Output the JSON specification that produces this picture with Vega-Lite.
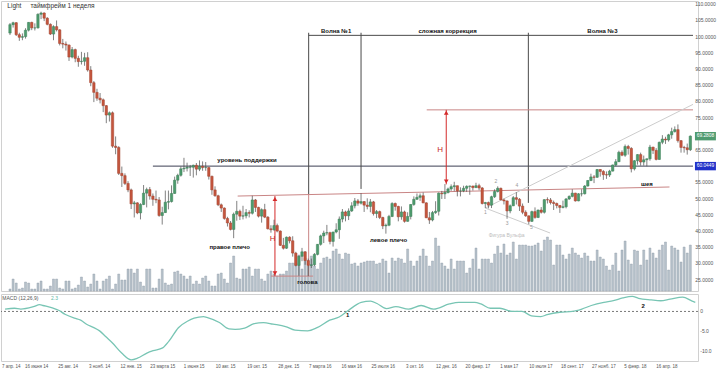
{
"$schema":"https://vega.github.io/schema/vega-lite/v6.json",
"padding":0,
"background":"white",
"config":{"font":"Liberation Sans","view":{"stroke":"#d0d0d0"}},
"datasets":{
"candles":[
{"d":"2014-04-07","o":101.1,"h":104.2,"l":100.5,"c":103.7,"v":2},
{"d":"2014-04-14","o":103.7,"h":104.6,"l":102.8,"c":104.3,"v":12},
{"d":"2014-04-21","o":104.3,"h":104.5,"l":100.2,"c":100.6,"v":8},
{"d":"2014-04-28","o":100.6,"h":101.2,"l":98.7,"c":99.8,"v":2},
{"d":"2014-05-05","o":99.8,"h":101.0,"l":98.9,"c":100.0,"v":3},
{"d":"2014-05-12","o":100.0,"h":102.6,"l":99.4,"c":102.0,"v":9},
{"d":"2014-05-19","o":102.0,"h":104.5,"l":101.6,"c":104.4,"v":8},
{"d":"2014-05-26","o":104.4,"h":104.6,"l":102.0,"c":102.7,"v":2},
{"d":"2014-06-02","o":102.7,"h":104.1,"l":101.9,"c":102.7,"v":2},
{"d":"2014-06-09","o":102.7,"h":107.2,"l":102.5,"c":106.9,"v":8},
{"d":"2014-06-16","o":106.9,"h":107.7,"l":105.4,"c":107.3,"v":10},
{"d":"2014-06-23","o":107.3,"h":107.5,"l":104.8,"c":105.7,"v":2},
{"d":"2014-06-30","o":105.7,"h":106.0,"l":103.5,"c":103.8,"v":2},
{"d":"2014-07-07","o":103.8,"h":104.1,"l":100.5,"c":100.8,"v":5},
{"d":"2014-07-14","o":100.8,"h":103.5,"l":98.9,"c":103.1,"v":12},
{"d":"2014-07-21","o":103.1,"h":105.0,"l":101.6,"c":102.1,"v":12},
{"d":"2014-07-28","o":102.1,"h":102.3,"l":97.3,"c":97.9,"v":3},
{"d":"2014-08-04","o":97.9,"h":99.3,"l":96.4,"c":97.7,"v":2},
{"d":"2014-08-11","o":97.7,"h":98.5,"l":95.7,"c":97.4,"v":10},
{"d":"2014-08-18","o":97.4,"h":97.6,"l":92.5,"c":93.7,"v":10},
{"d":"2014-08-25","o":93.7,"h":96.8,"l":93.3,"c":96.0,"v":2},
{"d":"2014-09-01","o":96.0,"h":96.3,"l":92.1,"c":93.3,"v":3},
{"d":"2014-09-08","o":93.3,"h":94.1,"l":90.7,"c":92.3,"v":6},
{"d":"2014-09-15","o":92.3,"h":95.3,"l":91.4,"c":92.4,"v":14},
{"d":"2014-09-22","o":92.4,"h":95.0,"l":91.0,"c":93.5,"v":10},
{"d":"2014-09-29","o":93.5,"h":95.2,"l":89.2,"c":89.7,"v":4},
{"d":"2014-10-06","o":89.7,"h":90.9,"l":84.7,"c":85.8,"v":7},
{"d":"2014-10-13","o":85.8,"h":86.3,"l":79.8,"c":82.8,"v":17},
{"d":"2014-10-20","o":82.8,"h":83.9,"l":80.2,"c":81.0,"v":10},
{"d":"2014-10-27","o":81.0,"h":82.6,"l":79.4,"c":80.5,"v":2},
{"d":"2014-11-03","o":80.5,"h":80.9,"l":76.7,"c":78.7,"v":10},
{"d":"2014-11-10","o":78.7,"h":78.9,"l":73.3,"c":75.8,"v":12},
{"d":"2014-11-17","o":75.8,"h":76.9,"l":73.8,"c":76.5,"v":15},
{"d":"2014-11-24","o":76.5,"h":76.9,"l":65.7,"c":66.2,"v":2},
{"d":"2014-12-01","o":66.2,"h":69.2,"l":63.7,"c":65.8,"v":7},
{"d":"2014-12-08","o":65.8,"h":66.2,"l":57.3,"c":57.8,"v":17},
{"d":"2014-12-15","o":57.8,"h":59.9,"l":53.6,"c":57.1,"v":11},
{"d":"2014-12-22","o":57.1,"h":57.8,"l":54.2,"c":54.7,"v":11},
{"d":"2014-12-29","o":54.7,"h":55.4,"l":52.0,"c":52.7,"v":22},
{"d":"2015-01-05","o":52.7,"h":53.1,"l":46.8,"c":48.4,"v":22},
{"d":"2015-01-12","o":48.4,"h":49.3,"l":44.2,"c":48.7,"v":18},
{"d":"2015-01-19","o":48.7,"h":48.9,"l":45.2,"c":45.6,"v":22},
{"d":"2015-01-26","o":45.6,"h":48.6,"l":43.6,"c":48.2,"v":9},
{"d":"2015-02-02","o":48.2,"h":54.2,"l":48.0,"c":51.7,"v":5},
{"d":"2015-02-09","o":51.7,"h":53.4,"l":47.3,"c":52.8,"v":22},
{"d":"2015-02-16","o":52.8,"h":53.6,"l":49.7,"c":50.8,"v":22},
{"d":"2015-02-23","o":50.8,"h":51.6,"l":47.8,"c":49.8,"v":3},
{"d":"2015-03-02","o":49.8,"h":52.5,"l":48.6,"c":49.6,"v":3},
{"d":"2015-03-09","o":49.6,"h":50.5,"l":44.4,"c":44.8,"v":12},
{"d":"2015-03-16","o":44.8,"h":47.5,"l":42.0,"c":45.7,"v":22},
{"d":"2015-03-23","o":45.7,"h":52.5,"l":45.6,"c":48.9,"v":8},
{"d":"2015-03-30","o":48.9,"h":52.5,"l":46.7,"c":49.1,"v":6},
{"d":"2015-04-06","o":49.1,"h":54.1,"l":48.8,"c":51.6,"v":7},
{"d":"2015-04-13","o":51.6,"h":56.8,"l":51.5,"c":55.7,"v":19},
{"d":"2015-04-20","o":55.7,"h":57.7,"l":54.6,"c":57.2,"v":20},
{"d":"2015-04-27","o":57.2,"h":59.9,"l":56.8,"c":59.2,"v":17},
{"d":"2015-05-04","o":59.2,"h":62.6,"l":58.2,"c":59.4,"v":15},
{"d":"2015-05-11","o":59.4,"h":61.1,"l":58.4,"c":59.7,"v":12},
{"d":"2015-05-18","o":59.7,"h":60.4,"l":57.0,"c":59.7,"v":15},
{"d":"2015-05-25","o":59.7,"h":60.5,"l":56.5,"c":60.3,"v":7},
{"d":"2015-06-01","o":60.3,"h":61.0,"l":57.2,"c":59.1,"v":10},
{"d":"2015-06-08","o":59.1,"h":61.8,"l":58.5,"c":60.0,"v":7},
{"d":"2015-06-15","o":60.0,"h":61.5,"l":58.6,"c":59.6,"v":13},
{"d":"2015-06-22","o":59.6,"h":61.3,"l":58.6,"c":59.6,"v":15},
{"d":"2015-06-29","o":59.6,"h":59.7,"l":55.9,"c":56.9,"v":10},
{"d":"2015-07-06","o":56.9,"h":57.1,"l":51.2,"c":52.7,"v":5},
{"d":"2015-07-13","o":52.7,"h":53.8,"l":50.6,"c":50.9,"v":5},
{"d":"2015-07-20","o":50.9,"h":51.2,"l":47.7,"c":48.1,"v":17},
{"d":"2015-07-27","o":48.1,"h":48.5,"l":45.9,"c":47.1,"v":18},
{"d":"2015-08-03","o":47.1,"h":47.3,"l":43.5,"c":43.9,"v":12},
{"d":"2015-08-10","o":43.9,"h":44.4,"l":41.4,"c":42.5,"v":8},
{"d":"2015-08-17","o":42.5,"h":43.1,"l":40.2,"c":40.5,"v":28},
{"d":"2015-08-24","o":40.5,"h":45.7,"l":37.8,"c":45.2,"v":35},
{"d":"2015-08-31","o":45.2,"h":49.3,"l":43.2,"c":46.1,"v":13},
{"d":"2015-09-07","o":46.1,"h":46.6,"l":43.4,"c":44.6,"v":12},
{"d":"2015-09-14","o":44.6,"h":47.8,"l":43.6,"c":44.7,"v":22},
{"d":"2015-09-21","o":44.7,"h":46.8,"l":43.9,"c":45.7,"v":22},
{"d":"2015-09-28","o":45.7,"h":46.4,"l":44.2,"c":45.5,"v":24},
{"d":"2015-10-05","o":45.5,"h":50.9,"l":45.1,"c":49.6,"v":15},
{"d":"2015-10-12","o":49.6,"h":49.9,"l":45.9,"c":47.3,"v":22},
{"d":"2015-10-19","o":47.3,"h":47.5,"l":44.2,"c":44.6,"v":22},
{"d":"2015-10-26","o":44.6,"h":47.0,"l":42.6,"c":46.6,"v":12},
{"d":"2015-11-02","o":46.6,"h":48.4,"l":44.0,"c":44.3,"v":10},
{"d":"2015-11-09","o":44.3,"h":44.6,"l":40.5,"c":40.7,"v":17},
{"d":"2015-11-16","o":40.7,"h":41.8,"l":39.5,"c":40.4,"v":20},
{"d":"2015-11-23","o":40.4,"h":43.5,"l":40.1,"c":41.7,"v":17},
{"d":"2015-11-30","o":41.7,"h":42.3,"l":39.6,"c":40.0,"v":15},
{"d":"2015-12-07","o":40.0,"h":40.2,"l":35.4,"c":35.6,"v":17},
{"d":"2015-12-14","o":35.6,"h":37.9,"l":34.3,"c":34.7,"v":17},
{"d":"2015-12-21","o":34.7,"h":38.3,"l":34.5,"c":38.1,"v":20},
{"d":"2015-12-28","o":38.1,"h":38.4,"l":36.2,"c":37.0,"v":28},
{"d":"2016-01-04","o":37.0,"h":38.4,"l":32.1,"c":33.2,"v":28},
{"d":"2016-01-11","o":33.2,"h":33.6,"l":29.1,"c":29.4,"v":28},
{"d":"2016-01-18","o":29.4,"h":32.4,"l":26.2,"c":32.2,"v":36},
{"d":"2016-01-25","o":32.2,"h":34.8,"l":30.7,"c":33.6,"v":22},
{"d":"2016-02-01","o":33.6,"h":33.8,"l":29.6,"c":30.9,"v":33},
{"d":"2016-02-08","o":30.9,"h":31.5,"l":26.1,"c":29.4,"v":25},
{"d":"2016-02-15","o":29.4,"h":31.5,"l":28.6,"c":29.6,"v":35},
{"d":"2016-02-22","o":29.6,"h":33.2,"l":29.2,"c":32.8,"v":25},
{"d":"2016-02-29","o":32.8,"h":36.0,"l":32.5,"c":35.9,"v":22},
{"d":"2016-03-07","o":35.9,"h":38.9,"l":35.5,"c":38.5,"v":28},
{"d":"2016-03-14","o":38.5,"h":40.1,"l":36.3,"c":39.4,"v":33},
{"d":"2016-03-21","o":39.4,"h":41.9,"l":38.7,"c":39.5,"v":34},
{"d":"2016-03-28","o":39.5,"h":39.8,"l":35.9,"c":36.8,"v":32},
{"d":"2016-04-04","o":36.8,"h":39.8,"l":35.2,"c":39.7,"v":40},
{"d":"2016-04-11","o":39.7,"h":42.4,"l":39.3,"c":40.4,"v":42},
{"d":"2016-04-18","o":40.4,"h":44.5,"l":37.6,"c":43.7,"v":37},
{"d":"2016-04-25","o":43.7,"h":46.8,"l":42.7,"c":45.9,"v":32},
{"d":"2016-05-02","o":45.9,"h":46.3,"l":43.0,"c":44.7,"v":38},
{"d":"2016-05-09","o":44.7,"h":47.0,"l":43.4,"c":46.2,"v":37},
{"d":"2016-05-16","o":46.2,"h":48.9,"l":45.9,"c":47.8,"v":27},
{"d":"2016-05-23","o":47.8,"h":50.2,"l":47.0,"c":49.3,"v":28},
{"d":"2016-05-30","o":49.3,"h":49.9,"l":47.8,"c":48.6,"v":25},
{"d":"2016-06-06","o":48.6,"h":51.7,"l":48.2,"c":49.1,"v":28},
{"d":"2016-06-13","o":49.1,"h":49.2,"l":45.9,"c":48.0,"v":29},
{"d":"2016-06-20","o":48.0,"h":50.1,"l":46.7,"c":47.6,"v":30},
{"d":"2016-06-27","o":47.6,"h":49.9,"l":45.8,"c":49.0,"v":30},
{"d":"2016-07-04","o":49.0,"h":49.3,"l":44.8,"c":45.4,"v":30},
{"d":"2016-07-11","o":45.4,"h":46.5,"l":44.0,"c":46.0,"v":27},
{"d":"2016-07-18","o":46.0,"h":46.3,"l":43.7,"c":44.2,"v":28},
{"d":"2016-07-25","o":44.2,"h":44.4,"l":40.6,"c":41.6,"v":32},
{"d":"2016-08-01","o":41.6,"h":42.3,"l":39.2,"c":41.8,"v":30},
{"d":"2016-08-08","o":41.8,"h":45.0,"l":41.5,"c":44.5,"v":18},
{"d":"2016-08-15","o":44.5,"h":48.9,"l":44.3,"c":48.5,"v":33},
{"d":"2016-08-22","o":48.5,"h":48.8,"l":46.3,"c":47.6,"v":30},
{"d":"2016-08-29","o":47.6,"h":47.8,"l":43.0,"c":44.4,"v":33},
{"d":"2016-09-05","o":44.4,"h":47.6,"l":43.5,"c":45.9,"v":32},
{"d":"2016-09-12","o":45.9,"h":46.3,"l":42.6,"c":43.0,"v":28},
{"d":"2016-09-19","o":43.0,"h":45.8,"l":42.9,"c":44.5,"v":42},
{"d":"2016-09-26","o":44.5,"h":48.3,"l":43.6,"c":48.2,"v":30},
{"d":"2016-10-03","o":48.2,"h":50.7,"l":47.8,"c":49.8,"v":25},
{"d":"2016-10-10","o":49.8,"h":51.6,"l":49.6,"c":50.4,"v":30},
{"d":"2016-10-17","o":50.4,"h":51.6,"l":49.3,"c":50.9,"v":35},
{"d":"2016-10-24","o":50.9,"h":51.9,"l":48.6,"c":48.7,"v":42},
{"d":"2016-10-31","o":48.7,"h":48.9,"l":44.0,"c":44.1,"v":35},
{"d":"2016-11-07","o":44.1,"h":45.9,"l":42.2,"c":43.4,"v":25},
{"d":"2016-11-14","o":43.4,"h":46.2,"l":43.0,"c":45.7,"v":30},
{"d":"2016-11-21","o":45.7,"h":49.2,"l":45.3,"c":46.1,"v":53},
{"d":"2016-11-28","o":46.1,"h":51.9,"l":44.8,"c":51.7,"v":45},
{"d":"2016-12-05","o":51.7,"h":52.4,"l":49.9,"c":51.5,"v":28},
{"d":"2016-12-12","o":51.5,"h":54.5,"l":49.9,"c":51.9,"v":25},
{"d":"2016-12-19","o":51.9,"h":53.4,"l":51.6,"c":53.0,"v":22},
{"d":"2016-12-26","o":53.0,"h":54.4,"l":52.4,"c":53.7,"v":32},
{"d":"2017-01-02","o":53.7,"h":55.2,"l":52.3,"c":54.0,"v":22},
{"d":"2017-01-09","o":54.0,"h":54.0,"l":50.7,"c":52.4,"v":30},
{"d":"2017-01-16","o":52.4,"h":53.5,"l":50.7,"c":52.4,"v":30},
{"d":"2017-01-23","o":52.4,"h":54.0,"l":52.0,"c":53.2,"v":30},
{"d":"2017-01-30","o":53.2,"h":54.1,"l":52.1,"c":53.8,"v":18},
{"d":"2017-02-06","o":53.8,"h":54.0,"l":51.2,"c":53.9,"v":23},
{"d":"2017-02-13","o":53.9,"h":54.0,"l":52.5,"c":53.4,"v":32},
{"d":"2017-02-20","o":53.4,"h":54.9,"l":53.3,"c":54.0,"v":43},
{"d":"2017-02-27","o":54.0,"h":54.6,"l":52.6,"c":53.3,"v":22},
{"d":"2017-03-06","o":53.3,"h":53.6,"l":48.2,"c":48.5,"v":32},
{"d":"2017-03-13","o":48.5,"h":49.0,"l":47.1,"c":48.8,"v":32},
{"d":"2017-03-20","o":48.8,"h":49.1,"l":47.0,"c":48.0,"v":32},
{"d":"2017-03-27","o":48.0,"h":50.9,"l":47.1,"c":50.6,"v":28},
{"d":"2017-04-03","o":50.6,"h":52.9,"l":50.2,"c":52.2,"v":37},
{"d":"2017-04-10","o":52.2,"h":53.8,"l":51.9,"c":53.2,"v":45},
{"d":"2017-04-17","o":53.2,"h":53.4,"l":49.5,"c":49.6,"v":38},
{"d":"2017-04-24","o":49.6,"h":50.0,"l":48.2,"c":49.3,"v":47},
{"d":"2017-05-01","o":49.3,"h":49.4,"l":43.8,"c":46.2,"v":36},
{"d":"2017-05-08","o":46.2,"h":48.2,"l":45.5,"c":47.8,"v":38},
{"d":"2017-05-15","o":47.8,"h":50.8,"l":47.7,"c":50.3,"v":49},
{"d":"2017-05-22","o":50.3,"h":52.0,"l":48.2,"c":49.8,"v":32},
{"d":"2017-05-29","o":49.8,"h":50.2,"l":46.2,"c":47.7,"v":46},
{"d":"2017-06-05","o":47.7,"h":48.5,"l":45.2,"c":45.8,"v":46},
{"d":"2017-06-12","o":45.8,"h":46.4,"l":44.4,"c":44.7,"v":46},
{"d":"2017-06-19","o":44.7,"h":44.8,"l":42.1,"c":43.0,"v":45},
{"d":"2017-06-26","o":43.0,"h":46.3,"l":42.8,"c":46.0,"v":45},
{"d":"2017-07-03","o":46.0,"h":47.3,"l":43.8,"c":44.2,"v":46},
{"d":"2017-07-10","o":44.2,"h":46.6,"l":44.0,"c":46.5,"v":48},
{"d":"2017-07-17","o":46.5,"h":47.4,"l":45.4,"c":45.8,"v":40},
{"d":"2017-07-24","o":45.8,"h":49.8,"l":45.4,"c":49.7,"v":51},
{"d":"2017-07-31","o":49.7,"h":50.4,"l":48.5,"c":49.6,"v":54},
{"d":"2017-08-07","o":49.6,"h":50.2,"l":48.2,"c":48.8,"v":51},
{"d":"2017-08-14","o":48.8,"h":49.4,"l":46.5,"c":48.5,"v":26},
{"d":"2017-08-21","o":48.5,"h":48.8,"l":47.0,"c":47.9,"v":46},
{"d":"2017-08-28","o":47.9,"h":48.0,"l":45.6,"c":47.3,"v":46},
{"d":"2017-09-04","o":47.3,"h":49.4,"l":47.0,"c":47.5,"v":36},
{"d":"2017-09-11","o":47.5,"h":50.2,"l":47.0,"c":49.9,"v":32},
{"d":"2017-09-18","o":49.9,"h":51.0,"l":49.6,"c":50.7,"v":37},
{"d":"2017-09-25","o":50.7,"h":52.9,"l":50.4,"c":51.7,"v":43},
{"d":"2017-10-02","o":51.7,"h":51.8,"l":49.1,"c":49.3,"v":38},
{"d":"2017-10-09","o":49.3,"h":51.7,"l":49.2,"c":51.5,"v":36},
{"d":"2017-10-16","o":51.5,"h":52.9,"l":50.7,"c":51.5,"v":33},
{"d":"2017-10-23","o":51.5,"h":54.2,"l":51.3,"c":53.9,"v":38},
{"d":"2017-10-30","o":53.9,"h":55.7,"l":53.7,"c":55.6,"v":35},
{"d":"2017-11-06","o":55.6,"h":57.7,"l":55.4,"c":56.7,"v":30},
{"d":"2017-11-13","o":56.7,"h":57.3,"l":54.8,"c":56.6,"v":30},
{"d":"2017-11-20","o":56.6,"h":59.1,"l":56.4,"c":59.0,"v":41},
{"d":"2017-11-27","o":59.0,"h":59.1,"l":56.8,"c":58.4,"v":34},
{"d":"2017-12-04","o":58.4,"h":58.8,"l":55.8,"c":57.4,"v":32},
{"d":"2017-12-11","o":57.4,"h":58.4,"l":56.1,"c":57.3,"v":25},
{"d":"2017-12-18","o":57.3,"h":58.9,"l":56.7,"c":58.5,"v":21},
{"d":"2017-12-25","o":58.5,"h":60.5,"l":58.4,"c":60.4,"v":26},
{"d":"2018-01-01","o":60.4,"h":62.2,"l":60.0,"c":61.4,"v":38},
{"d":"2018-01-08","o":61.4,"h":64.8,"l":61.3,"c":64.3,"v":20},
{"d":"2018-01-15","o":64.3,"h":64.9,"l":63.1,"c":63.4,"v":41},
{"d":"2018-01-22","o":63.4,"h":66.7,"l":62.9,"c":66.1,"v":50},
{"d":"2018-01-29","o":66.1,"h":66.6,"l":63.6,"c":65.5,"v":31},
{"d":"2018-02-05","o":65.5,"h":65.9,"l":58.1,"c":59.2,"v":27},
{"d":"2018-02-12","o":59.2,"h":61.9,"l":58.7,"c":61.7,"v":41},
{"d":"2018-02-19","o":61.7,"h":63.7,"l":60.5,"c":63.6,"v":40},
{"d":"2018-02-26","o":63.6,"h":64.2,"l":60.2,"c":61.3,"v":26},
{"d":"2018-03-05","o":61.3,"h":63.3,"l":60.2,"c":62.0,"v":41},
{"d":"2018-03-12","o":62.0,"h":62.4,"l":60.0,"c":62.3,"v":31},
{"d":"2018-03-19","o":62.3,"h":66.6,"l":61.7,"c":65.9,"v":43},
{"d":"2018-03-26","o":65.9,"h":66.0,"l":63.8,"c":64.9,"v":38},
{"d":"2018-04-02","o":64.9,"h":65.6,"l":61.8,"c":62.1,"v":33},
{"d":"2018-04-09","o":62.1,"h":67.6,"l":62.0,"c":67.4,"v":41},
{"d":"2018-04-16","o":67.4,"h":69.6,"l":66.8,"c":68.4,"v":46},
{"d":"2018-04-23","o":68.4,"h":69.1,"l":66.9,"c":68.1,"v":49},
{"d":"2018-04-30","o":68.1,"h":70.0,"l":67.6,"c":69.7,"v":21},
{"d":"2018-05-07","o":69.7,"h":71.9,"l":68.5,"c":70.7,"v":45},
{"d":"2018-05-14","o":70.7,"h":72.3,"l":70.4,"c":71.3,"v":43},
{"d":"2018-05-21","o":71.3,"h":72.9,"l":67.3,"c":67.9,"v":41},
{"d":"2018-05-28","o":67.9,"h":68.1,"l":64.2,"c":65.8,"v":29},
{"d":"2018-06-04","o":65.8,"h":66.3,"l":64.2,"c":65.7,"v":44},
{"d":"2018-06-11","o":65.7,"h":67.0,"l":63.6,"c":65.1,"v":38},
{"d":"2018-06-18","o":65.1,"h":69.5,"l":64.7,"c":69.3,"v":46}
],
"macd":[
{"d":"2014-04-07","m":0.6},{"d":"2014-04-28","m":0.8},{"d":"2014-05-12","m":0.6},{"d":"2014-06-09","m":1.2},
{"d":"2014-06-23","m":1.7},{"d":"2014-06-30","m":1.5},{"d":"2014-07-21","m":0.9},{"d":"2014-08-04","m":0.3},
{"d":"2014-08-18","m":-0.7},{"d":"2014-09-08","m":-1.7},{"d":"2014-09-22","m":-2.2},{"d":"2014-10-06","m":-3.3},
{"d":"2014-10-20","m":-4.0},{"d":"2014-11-03","m":-4.9},{"d":"2014-11-17","m":-6.4},{"d":"2014-12-01","m":-7.9},
{"d":"2014-12-22","m":-10.5},{"d":"2015-01-12","m":-12.2},{"d":"2015-01-26","m":-11.8},{"d":"2015-02-16","m":-10.5},
{"d":"2015-03-02","m":-9.9},{"d":"2015-03-23","m":-9.2},{"d":"2015-04-06","m":-7.5},{"d":"2015-04-27","m":-4.1},
{"d":"2015-05-18","m":-2.4},{"d":"2015-06-01","m":-1.7},{"d":"2015-06-22","m":-1.3},{"d":"2015-06-29","m":-1.5},
{"d":"2015-07-27","m":-2.8},{"d":"2015-08-17","m":-4.4},{"d":"2015-08-31","m":-4.5},{"d":"2015-09-21","m":-4.2},
{"d":"2015-10-12","m":-3.1},{"d":"2015-11-02","m":-2.8},{"d":"2015-11-23","m":-3.2},{"d":"2015-12-21","m":-3.8},
{"d":"2016-01-11","m":-4.7},{"d":"2016-02-08","m":-4.9},{"d":"2016-02-29","m":-4.1},{"d":"2016-03-28","m":-2.2},
{"d":"2016-04-18","m":-1.4},{"d":"2016-05-09","m":0.3},{"d":"2016-06-06","m":2.3},{"d":"2016-06-27","m":2.6},
{"d":"2016-07-11","m":2.0},{"d":"2016-08-01","m":0.7},{"d":"2016-08-22","m":1.2},{"d":"2016-09-19","m":0.6},
{"d":"2016-10-17","m":1.5},{"d":"2016-11-14","m":0.6},{"d":"2016-12-19","m":1.9},{"d":"2017-01-09","m":2.3},
{"d":"2017-02-13","m":2.3},{"d":"2017-02-27","m":1.9},{"d":"2017-03-20","m":0.8},{"d":"2017-04-10","m":0.8},
{"d":"2017-05-08","m":0.0},{"d":"2017-05-29","m":0.0},{"d":"2017-06-19","m":-1.1},{"d":"2017-07-10","m":-1.3},
{"d":"2017-07-24","m":-0.8},{"d":"2017-08-21","m":-0.2},{"d":"2017-09-18","m":0.0},{"d":"2017-10-09","m":0.6},
{"d":"2017-10-30","m":1.5},{"d":"2017-11-27","m":2.3},{"d":"2017-12-18","m":2.7},{"d":"2018-01-08","m":3.4},
{"d":"2018-01-29","m":3.8},{"d":"2018-02-12","m":3.3},{"d":"2018-03-12","m":2.9},{"d":"2018-04-02","m":2.7},
{"d":"2018-04-23","m":3.1},{"d":"2018-05-21","m":3.6},{"d":"2018-06-11","m":2.6},{"d":"2018-06-18","m":2.3}
]
},
"vconcat":[
{
"width":697,"height":290,
"layer":[
{
"data":{"name":"candles"},
"mark":{"type":"bar","size":2,"color":"#b6c1ca","stroke":"#8e9ba7","strokeWidth":0.4},
"encoding":{
"x":{"field":"d","type":"temporal","scale":{"type":"utc","domain":[{"year":2014,"month":3,"date":29,"utc":true},{"year":2018,"month":6,"date":24,"utc":true}],"nice":false},
"axis":{"values":[{"year":2014,"month":4,"date":7,"utc":true},{"year":2014,"month":6,"date":16,"utc":true},{"year":2014,"month":8,"date":25,"utc":true},{"year":2014,"month":11,"date":3,"utc":true},{"year":2015,"month":1,"date":12,"utc":true},{"year":2015,"month":3,"date":23,"utc":true},{"year":2015,"month":6,"date":1,"utc":true},{"year":2015,"month":8,"date":10,"utc":true},{"year":2015,"month":10,"date":19,"utc":true},{"year":2015,"month":12,"date":28,"utc":true},{"year":2016,"month":3,"date":7,"utc":true},{"year":2016,"month":5,"date":16,"utc":true},{"year":2016,"month":7,"date":25,"utc":true},{"year":2016,"month":10,"date":3,"utc":true},{"year":2016,"month":12,"date":12,"utc":true},{"year":2017,"month":2,"date":20,"utc":true},{"year":2017,"month":5,"date":1,"utc":true},{"year":2017,"month":7,"date":10,"utc":true},{"year":2017,"month":9,"date":18,"utc":true},{"year":2017,"month":11,"date":27,"utc":true},{"year":2018,"month":2,"date":5,"utc":true},{"year":2018,"month":4,"date":16,"utc":true}],"grid":true,"gridColor":"#ebebeb","labels":false,"ticks":false,"domain":false,"title":null}},
"y":{"field":"v","type":"quantitative","scale":{"domain":[0,290],"nice":false,"zero":true},"axis":null}
}
},
{
"layer":[
{
"data":{"values":[
{"d":"2015-02-23","d2":"2018-06-24","p":60.04,"p2":60.04,"k":"support"},
{"d":"2016-02-09","d2":"2018-06-24","p":100.4,"p2":100.4,"k":"wave"},
{"d":"2016-02-09","d2":"2016-02-09","p":101.2,"p2":51.3,"k":"wave"},
{"d":"2016-06-06","d2":"2016-06-06","p":101.2,"p2":53.0,"k":"wave"},
{"d":"2017-06-18","d2":"2017-06-18","p":101.2,"p2":48.7,"k":"wave"},
{"d":"2015-09-02","d2":"2018-05-02","p":50.8,"p2":53.6,"k":"pattern"},
{"d":"2016-11-01","d2":"2018-06-24","p":77.4,"p2":77.4,"k":"pattern"},
{"d":"2015-11-16","d2":"2016-02-19","p":26.1,"p2":26.1,"k":"pattern"},
{"d":"2016-02-09","d2":"2016-02-09","p":51.3,"p2":26.1,"k":"pattern"},
{"d":"2015-11-25","d2":"2015-11-25","p":50.8,"p2":26.1,"k":"measure"},
{"d":"2016-12-15","d2":"2016-12-15","p":54.4,"p2":77.4,"k":"measure"},
{"d":"2017-03-13","d2":"2017-08-06","p":47.1,"p2":39.4,"k":"wolfe"},
{"d":"2017-03-13","d2":"2018-06-24","p":47.1,"p2":79.1,"k":"wolfe"}
],"format":{"parse":{"d":"date","d2":"date"}}},
"mark":{"type":"rule","strokeWidth":1},
"encoding":{
"x":{"field":"d","type":"temporal","scale":{"type":"utc","domain":[{"year":2014,"month":3,"date":29,"utc":true},{"year":2018,"month":6,"date":24,"utc":true}],"nice":false},"axis":null},
"x2":{"field":"d2"},
"y":{"field":"p","type":"quantitative","scale":{"domain":[21.5,111],"nice":false,"zero":false},
"axis":{"orient":"right","values":[25,30,35,40,45,50,55,60,65,70,75,80,85,90,95,100,105,110],"grid":true,"gridColor":"#ebebeb","labels":false,"ticks":false,"domain":false,"title":null}},
"y2":{"field":"p2"},
"color":{"field":"k","type":"nominal","scale":{"domain":["support","wave","pattern","measure","wolfe"],"range":["#3b3e52","#4a4a4a","#c98585","#d42a2a","#cdcdcd"]},"legend":null}
}
},
{
"data":{"name":"candles"},
"mark":{"type":"rule","color":"#4a4a4a","strokeWidth":0.7},
"encoding":{
"x":{"field":"d","type":"temporal","scale":{"type":"utc","domain":[{"year":2014,"month":3,"date":29,"utc":true},{"year":2018,"month":6,"date":24,"utc":true}],"nice":false},"axis":null},
"y":{"field":"l","type":"quantitative","scale":{"domain":[21.5,111],"nice":false,"zero":false},"axis":null},
"y2":{"field":"h"}
}
},
{
"data":{"name":"candles"},
"mark":{"type":"bar","size":2.4,"strokeWidth":0.5},
"encoding":{
"x":{"field":"d","type":"temporal","scale":{"type":"utc","domain":[{"year":2014,"month":3,"date":29,"utc":true},{"year":2018,"month":6,"date":24,"utc":true}],"nice":false},"axis":null},
"y":{"field":"o","type":"quantitative","scale":{"domain":[21.5,111],"nice":false,"zero":false},"axis":null},
"y2":{"field":"c"},
"fill":{"condition":{"test":"datum.c >= datum.o","value":"#4d9b6d"},"value":"#c5563e"},
"stroke":{"condition":{"test":"datum.c >= datum.o","value":"#3d7f58"},"value":"#a3432f"}
}
},
{
"data":{"values":[{"d":"2015-11-25","p":49.9,"dir":"up"},{"d":"2015-11-25","p":27.0,"dir":"down"},{"d":"2016-12-15","p":76.5,"dir":"up"},{"d":"2016-12-15","p":55.3,"dir":"down"}]},
"mark":{"type":"point","filled":true,"size":22,"color":"#d42a2a","opacity":1},
"encoding":{
"x":{"field":"d","type":"temporal","scale":{"type":"utc","domain":[{"year":2014,"month":3,"date":29,"utc":true},{"year":2018,"month":6,"date":24,"utc":true}],"nice":false},"axis":null},
"y":{"field":"p","type":"quantitative","scale":{"domain":[21.5,111],"nice":false,"zero":false},"axis":null},
"shape":{"field":"dir","type":"nominal","scale":{"domain":["up","down"],"range":["triangle-up","triangle-down"]},"legend":null}
}
},
{
"data":{"values":[{"d":"2014-04-01","p":109.6,"t":"Light"},{"d":"2014-05-23","p":109.6,"t":"таймфрейм 1 неделя"}]},
"mark":{"type":"text","align":"left","baseline":"middle","fontSize":6.5,"color":"#333333"},
"encoding":{
"x":{"field":"d","type":"temporal","scale":{"type":"utc","domain":[{"year":2014,"month":3,"date":29,"utc":true},{"year":2018,"month":6,"date":24,"utc":true}],"nice":false},"axis":null},
"y":{"field":"p","type":"quantitative","scale":{"domain":[21.5,111],"nice":false,"zero":false},"axis":null},
"text":{"field":"t"}
}
},
{
"data":{"values":[
{"d":"2016-04-11","p":101.8,"t":"Волна №1"},
{"d":"2016-12-18","p":101.6,"t":"сложная коррекция"},
{"d":"2017-12-02","p":101.7,"t":"Волна №3"},
{"d":"2015-09-23","p":61.9,"t":"уровень поддержки"},
{"d":"2015-08-15","p":35.2,"t":"правое плечо"},
{"d":"2016-02-06","p":24.3,"t":"голова"},
{"d":"2016-08-07","p":37.2,"t":"левое плечо"},
{"d":"2018-03-12","p":54.4,"t":"шея"}
]},
"mark":{"type":"text","align":"center","baseline":"middle","fontSize":6,"fontWeight":"bold","color":"#111111"},
"encoding":{
"x":{"field":"d","type":"temporal","scale":{"type":"utc","domain":[{"year":2014,"month":3,"date":29,"utc":true},{"year":2018,"month":6,"date":24,"utc":true}],"nice":false},"axis":null},
"y":{"field":"p","type":"quantitative","scale":{"domain":[21.5,111],"nice":false,"zero":false},"axis":null},
"text":{"field":"t"}
}
},
{
"data":{"values":[{"d":"2015-11-20","p":37.6,"t":"H"},{"d":"2016-12-01","p":65.0,"t":"H"}]},
"mark":{"type":"text","align":"center","baseline":"middle","fontSize":8,"color":"#c62828"},
"encoding":{
"x":{"field":"d","type":"temporal","scale":{"type":"utc","domain":[{"year":2014,"month":3,"date":29,"utc":true},{"year":2018,"month":6,"date":24,"utc":true}],"nice":false},"axis":null},
"y":{"field":"p","type":"quantitative","scale":{"domain":[21.5,111],"nice":false,"zero":false},"axis":null},
"text":{"field":"t"}
}
},
{
"data":{"values":[{"d":"2017-04-30","p":38.9,"t":"Фигура Вульфа"}]},
"mark":{"type":"text","align":"center","baseline":"middle","fontSize":5,"color":"#bdbdbd"},
"encoding":{
"x":{"field":"d","type":"temporal","scale":{"type":"utc","domain":[{"year":2014,"month":3,"date":29,"utc":true},{"year":2018,"month":6,"date":24,"utc":true}],"nice":false},"axis":null},
"y":{"field":"p","type":"quantitative","scale":{"domain":[21.5,111],"nice":false,"zero":false},"axis":null},
"text":{"field":"t"}
}
},
{
"data":{"values":[{"d":"2017-03-13","p":45.9,"t":"1"},{"d":"2017-04-06","p":55.5,"t":"2"},{"d":"2017-05-01","p":42.5,"t":"3"},{"d":"2017-05-23","p":54.2,"t":"4"},{"d":"2017-06-25","p":41.2,"t":"5"}]},
"mark":{"type":"text","align":"center","baseline":"middle","fontSize":5,"color":"#9a9a9a"},
"encoding":{
"x":{"field":"d","type":"temporal","scale":{"type":"utc","domain":[{"year":2014,"month":3,"date":29,"utc":true},{"year":2018,"month":6,"date":24,"utc":true}],"nice":false},"axis":null},
"y":{"field":"p","type":"quantitative","scale":{"domain":[21.5,111],"nice":false,"zero":false},"axis":null},
"text":{"field":"t"}
}
},
{
"data":{"values":[{"d":"2018-06-29","p":25},{"d":"2018-06-29","p":30},{"d":"2018-06-29","p":35},{"d":"2018-06-29","p":40},{"d":"2018-06-29","p":45},{"d":"2018-06-29","p":50},{"d":"2018-06-29","p":55},{"d":"2018-06-29","p":65},{"d":"2018-06-29","p":75},{"d":"2018-06-29","p":80},{"d":"2018-06-29","p":85},{"d":"2018-06-29","p":90},{"d":"2018-06-29","p":95},{"d":"2018-06-29","p":100},{"d":"2018-06-29","p":105},{"d":"2018-06-29","p":110}]},
"mark":{"type":"text","align":"left","baseline":"middle","fontSize":5,"color":"#555555"},
"encoding":{
"x":{"field":"d","type":"temporal","scale":{"type":"utc","domain":[{"year":2014,"month":3,"date":29,"utc":true},{"year":2018,"month":6,"date":24,"utc":true}],"nice":false},"axis":null},
"y":{"field":"p","type":"quantitative","scale":{"domain":[21.5,111],"nice":false,"zero":false},"axis":null},
"text":{"field":"p","type":"quantitative","format":".4f"}
}
},
{
"data":{"values":[{"d":"2018-07-22","p":69.28}]},
"mark":{"type":"point","shape":"M-1,-0.4H1V0.4H-1Z","size":440,"filled":true,"opacity":1,"color":"#4f9b70"},
"encoding":{
"x":{"field":"d","type":"temporal","scale":{"type":"utc","domain":[{"year":2014,"month":3,"date":29,"utc":true},{"year":2018,"month":6,"date":24,"utc":true}],"nice":false},"axis":null},
"y":{"field":"p","type":"quantitative","scale":{"domain":[21.5,111],"nice":false,"zero":false},"axis":null}
}
},
{
"data":{"values":[{"d":"2018-07-22","p":60.04}]},
"mark":{"type":"point","shape":"M-1,-0.4H1V0.4H-1Z","size":440,"filled":true,"opacity":1,"color":"#2132c9"},
"encoding":{
"x":{"field":"d","type":"temporal","scale":{"type":"utc","domain":[{"year":2014,"month":3,"date":29,"utc":true},{"year":2018,"month":6,"date":24,"utc":true}],"nice":false},"axis":null},
"y":{"field":"p","type":"quantitative","scale":{"domain":[21.5,111],"nice":false,"zero":false},"axis":null}
}
},
{
"data":{"values":[{"d":"2018-07-22","p":69.28,"t":"69.2808"},{"d":"2018-07-22","p":60.04,"t":"60.0449"}]},
"mark":{"type":"text","align":"center","baseline":"middle","fontSize":4.8,"color":"white"},
"encoding":{
"x":{"field":"d","type":"temporal","scale":{"type":"utc","domain":[{"year":2014,"month":3,"date":29,"utc":true},{"year":2018,"month":6,"date":24,"utc":true}],"nice":false},"axis":null},
"y":{"field":"p","type":"quantitative","scale":{"domain":[21.5,111],"nice":false,"zero":false},"axis":null},
"text":{"field":"t"}
}
}
]
}
],
"resolve":{"scale":{"y":"independent"}}
},
{
"width":697,"height":67,
"layer":[
{
"data":{"values":[{"m":0}]},
"mark":{"type":"rule","color":"#555555","strokeDash":[2,2],"strokeWidth":0.8},
"encoding":{"y":{"field":"m","type":"quantitative","scale":{"domain":[-12.5,4.4],"nice":false,"zero":false},"axis":null}}
},
{
"data":{"name":"macd"},
"mark":{"type":"line","color":"#78c5b4","strokeWidth":1.3,"interpolate":"monotone"},
"encoding":{
"x":{"field":"d","type":"temporal","scale":{"type":"utc","domain":[{"year":2014,"month":3,"date":29,"utc":true},{"year":2018,"month":6,"date":24,"utc":true}],"nice":false},
"axis":{"values":[{"year":2014,"month":4,"date":7,"utc":true},{"year":2014,"month":6,"date":16,"utc":true},{"year":2014,"month":8,"date":25,"utc":true},{"year":2014,"month":11,"date":3,"utc":true},{"year":2015,"month":1,"date":12,"utc":true},{"year":2015,"month":3,"date":23,"utc":true},{"year":2015,"month":6,"date":1,"utc":true},{"year":2015,"month":8,"date":10,"utc":true},{"year":2015,"month":10,"date":19,"utc":true},{"year":2015,"month":12,"date":28,"utc":true},{"year":2016,"month":3,"date":7,"utc":true},{"year":2016,"month":5,"date":16,"utc":true},{"year":2016,"month":7,"date":25,"utc":true},{"year":2016,"month":10,"date":3,"utc":true},{"year":2016,"month":12,"date":12,"utc":true},{"year":2017,"month":2,"date":20,"utc":true},{"year":2017,"month":5,"date":1,"utc":true},{"year":2017,"month":7,"date":10,"utc":true},{"year":2017,"month":9,"date":18,"utc":true},{"year":2017,"month":11,"date":27,"utc":true},{"year":2018,"month":2,"date":5,"utc":true},{"year":2018,"month":4,"date":16,"utc":true}],"grid":true,"gridColor":"#ebebeb","labels":false,"ticks":false,"domain":false,"title":null}},
"y":{"field":"m","type":"quantitative","scale":{"domain":[-12.5,4.4],"nice":false,"zero":false},
"axis":{"orient":"right","values":[-5,-10],"grid":true,"gridColor":"#ebebeb","labels":false,"ticks":false,"domain":false,"title":null}}
}
},
{
"data":{"values":[{"d":"2014-04-01","m":3.4,"t":"MACD (12,26,9)"}]},
"mark":{"type":"text","align":"left","baseline":"middle","fontSize":5,"color":"#555555"},
"encoding":{
"x":{"field":"d","type":"temporal","scale":{"type":"utc","domain":[{"year":2014,"month":3,"date":29,"utc":true},{"year":2018,"month":6,"date":24,"utc":true}],"nice":false},"axis":null},
"y":{"field":"m","type":"quantitative","scale":{"domain":[-12.5,4.4],"nice":false,"zero":false},"axis":null},
"text":{"field":"t"}
}
},
{
"data":{"values":[{"d":"2014-07-18","m":3.4,"t":"2.3"}]},
"mark":{"type":"text","align":"left","baseline":"middle","fontSize":5,"color":"#5fb7a4"},
"encoding":{
"x":{"field":"d","type":"temporal","scale":{"type":"utc","domain":[{"year":2014,"month":3,"date":29,"utc":true},{"year":2018,"month":6,"date":24,"utc":true}],"nice":false},"axis":null},
"y":{"field":"m","type":"quantitative","scale":{"domain":[-12.5,4.4],"nice":false,"zero":false},"axis":null},
"text":{"field":"t"}
}
},
{
"data":{"values":[{"d":"2016-05-07","m":-1.0,"t":"1"},{"d":"2018-02-22","m":1.3,"t":"2"}]},
"mark":{"type":"text","align":"center","baseline":"middle","fontSize":6,"fontWeight":"bold","color":"#111111"},
"encoding":{
"x":{"field":"d","type":"temporal","scale":{"type":"utc","domain":[{"year":2014,"month":3,"date":29,"utc":true},{"year":2018,"month":6,"date":24,"utc":true}],"nice":false},"axis":null},
"y":{"field":"m","type":"quantitative","scale":{"domain":[-12.5,4.4],"nice":false,"zero":false},"axis":null},
"text":{"field":"t"}
}
},
{
"data":{"values":[{"d":"2018-06-29","m":0,"t":"0"},{"d":"2018-06-29","m":-5,"t":"-5.0"},{"d":"2018-06-29","m":-10,"t":"-10.0"}]},
"mark":{"type":"text","align":"left","baseline":"middle","fontSize":5,"color":"#555555"},
"encoding":{
"x":{"field":"d","type":"temporal","scale":{"type":"utc","domain":[{"year":2014,"month":3,"date":29,"utc":true},{"year":2018,"month":6,"date":24,"utc":true}],"nice":false},"axis":null},
"y":{"field":"m","type":"quantitative","scale":{"domain":[-12.5,4.4],"nice":false,"zero":false},"axis":null},
"text":{"field":"t"}
}
},
{
"data":{"values":[{"d":"2014-03-31","t":"7 апр. 14"}]},
"mark":{"type":"text","align":"left","baseline":"middle","fontSize":4.5,"color":"#555555"},
"encoding":{
"x":{"field":"d","type":"temporal","scale":{"type":"utc","domain":[{"year":2014,"month":3,"date":29,"utc":true},{"year":2018,"month":6,"date":24,"utc":true}],"nice":false},"axis":null},
"y":{"datum":-13.9,"type":"quantitative","scale":{"domain":[-12.5,4.4],"nice":false,"zero":false},"axis":null},
"text":{"field":"t"}
}
},
{
"data":{"values":[
{"d":"2014-06-16","t":"16 июня 14"},{"d":"2014-08-25","t":"25 авг. 14"},{"d":"2014-11-03","t":"3 нояб. 14"},{"d":"2015-01-12","t":"12 янв. 15"},
{"d":"2015-03-23","t":"23 марта 15"},{"d":"2015-06-01","t":"1 июня 15"},{"d":"2015-08-10","t":"10 авг. 15"},{"d":"2015-10-19","t":"19 окт. 15"},
{"d":"2015-12-28","t":"28 дек. 15"},{"d":"2016-03-07","t":"7 марта 16"},{"d":"2016-05-16","t":"16 мая 16"},{"d":"2016-07-25","t":"25 июля 16"},
{"d":"2016-10-03","t":"3 окт. 16"},{"d":"2016-12-12","t":"12 дек. 16"},{"d":"2017-02-20","t":"20 февр. 17"},{"d":"2017-05-01","t":"1 мая 17"},
{"d":"2017-07-10","t":"10 июля 17"},{"d":"2017-09-18","t":"18 сент. 17"},{"d":"2017-11-27","t":"27 нояб. 17"},{"d":"2018-02-05","t":"5 февр. 18"},
{"d":"2018-04-16","t":"16 апр. 18"}
]},
"mark":{"type":"text","align":"center","baseline":"middle","fontSize":4.5,"color":"#555555"},
"encoding":{
"x":{"field":"d","type":"temporal","scale":{"type":"utc","domain":[{"year":2014,"month":3,"date":29,"utc":true},{"year":2018,"month":6,"date":24,"utc":true}],"nice":false},"axis":null},
"y":{"datum":-13.9,"type":"quantitative","scale":{"domain":[-12.5,4.4],"nice":false,"zero":false},"axis":null},
"text":{"field":"t"}
}
}
]
}
],
"spacing":1,
"resolve":{"scale":{"x":"independent","y":"independent"}}
}
